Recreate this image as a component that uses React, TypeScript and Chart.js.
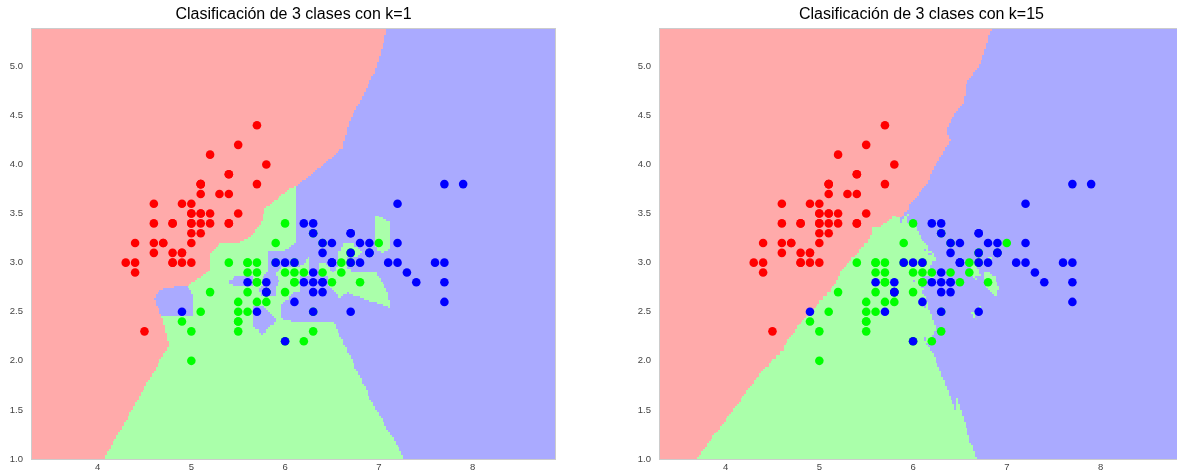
import React, { useEffect, useRef } from "react";
import { Chart, registerables } from "chart.js";

Chart.register(...registerables);

// Iris data (sepal length, sepal width), in dataset order
const setosaLength = [5.1,4.9,4.7,4.6,5.0,5.4,4.6,5.0,4.4,4.9,5.4,4.8,4.8,4.3,5.8,5.7,5.4,5.1,5.7,5.1,5.4,5.1,4.6,5.1,4.8,5.0,5.0,5.2,5.2,4.7,4.8,5.4,5.2,5.5,4.9,5.0,5.5,4.9,4.4,5.1,5.0,4.5,4.4,5.0,5.1,4.8,5.1,4.6,5.3,5.0];
const setosaWidth = [3.5,3.0,3.2,3.1,3.6,3.9,3.4,3.4,2.9,3.1,3.7,3.4,3.0,3.0,4.0,4.4,3.9,3.5,3.8,3.8,3.4,3.7,3.6,3.3,3.4,3.0,3.4,3.5,3.4,3.2,3.1,3.4,4.1,4.2,3.1,3.2,3.5,3.6,3.0,3.4,3.5,2.3,3.2,3.5,3.8,3.0,3.8,3.2,3.7,3.3];
const versicolorLength = [7.0,6.4,6.9,5.5,6.5,5.7,6.3,4.9,6.6,5.2,5.0,5.9,6.0,6.1,5.6,6.7,5.6,5.8,6.2,5.6,5.9,6.1,6.3,6.1,6.4,6.6,6.8,6.7,6.0,5.7,5.5,5.5,5.8,6.0,5.4,6.0,6.7,6.3,5.6,5.5,5.5,6.1,5.8,5.0,5.6,5.7,5.7,6.2,5.1,5.7];
const versicolorWidth = [3.2,3.2,3.1,2.3,2.8,2.8,3.3,2.4,2.9,2.7,2.0,3.0,2.2,2.9,2.9,3.1,3.0,2.7,2.2,2.5,3.2,2.8,2.5,2.8,2.9,3.0,2.8,3.0,2.9,2.6,2.4,2.4,2.7,2.7,3.0,3.4,3.1,2.3,3.0,2.5,2.6,3.0,2.6,2.3,2.7,3.0,2.9,2.9,2.5,2.8];
const virginicaLength = [6.3,5.8,7.1,6.3,6.5,7.6,4.9,7.3,6.7,7.2,6.5,6.4,6.8,5.7,5.8,6.4,6.5,7.7,7.7,6.0,6.9,5.6,7.7,6.3,6.7,7.2,6.2,6.1,6.4,7.2,7.4,7.9,6.4,6.3,6.1,7.7,6.3,6.4,6.0,6.9,6.7,6.9,5.8,6.8,6.7,6.7,6.3,6.5,6.2,5.9];
const virginicaWidth = [3.3,2.7,3.0,2.9,3.0,3.0,2.5,2.9,2.5,3.6,3.2,2.7,3.0,2.5,2.8,3.2,3.0,3.8,2.6,2.2,3.2,2.8,2.8,2.7,3.3,3.2,2.8,3.0,2.8,3.0,2.8,3.8,2.8,2.8,2.6,3.0,3.4,3.1,3.0,3.1,3.1,3.1,2.7,3.2,3.3,3.0,2.5,3.0,3.4,3.0];

// Duplicate samples where the earlier (versicolor) sample wins the distance tie
const tiePreferredLength = [6.0, 6.7];
const tiePreferredWidth = [2.2, 3.1];
const tiePreferredClass = [1, 1];

const pointColors = ["#FF0000", "#00FF00", "#0000FF"];
const regionColors = ["#FFAAAA", "#AAFFAA", "#AAAAFF"];
const neighborCounts = [1, 15];
const titles = ["Clasificación de 3 clases con k=1", "Clasificación de 3 clases con k=15"];
const xTicks = [4, 5, 6, 7, 8];
const yTicks = [1.0, 1.5, 2.0, 2.5, 3.0, 3.5, 4.0, 4.5, 5.0];
const gridStep = 0.02;

const allX = [...setosaLength, ...versicolorLength, ...virginicaLength];
const allY = [...setosaWidth, ...versicolorWidth, ...virginicaWidth];
const allLabel = [
  ...setosaLength.map(() => 0),
  ...versicolorLength.map(() => 1),
  ...virginicaLength.map(() => 2),
];
const allRank = allX.map((x, i) => {
  const pref = tiePreferredLength.some(
    (tx, j) => tx === x && tiePreferredWidth[j] === allY[i] && tiePreferredClass[j] === allLabel[i]
  );
  return pref ? 1000 + i : i;
});

const xMin = Math.min(...allX) - 1;
const yMin = Math.min(...allY) - 1;
const nCols = Math.round((Math.max(...allX) + 1 - xMin) / gridStep) - 1;
const nRows = Math.round((Math.max(...allY) + 1 - yMin) / gridStep) - 1;
const xMax = xMin + nCols * gridStep;
const yMax = yMin + nRows * gridStep;

function classify(k: number, px: number, py: number): number {
  const bestD: number[] = [];
  const bestR: number[] = [];
  const bestL: number[] = [];
  for (let i = 0; i < allX.length; i++) {
    const dx = px - allX[i];
    const dy = py - allY[i];
    const d = dx * dx + dy * dy;
    const r = allRank[i];
    const n = bestD.length;
    if (n >= k && (d > bestD[n - 1] || (d === bestD[n - 1] && r < bestR[n - 1]))) continue;
    let pos = 0;
    while (pos < n && (bestD[pos] < d || (bestD[pos] === d && bestR[pos] > r))) pos++;
    bestD.splice(pos, 0, d);
    bestR.splice(pos, 0, r);
    bestL.splice(pos, 0, allLabel[i]);
    if (bestD.length > k) {
      bestD.pop();
      bestR.pop();
      bestL.pop();
    }
  }
  const votes = [0, 0, 0];
  for (const l of bestL) votes[l]++;
  let best = 0;
  for (let c = 1; c < 3; c++) if (votes[c] > votes[best]) best = c;
  return best;
}

function hexToRgb(h: string) {
  return [parseInt(h.slice(1, 3), 16), parseInt(h.slice(3, 5), 16), parseInt(h.slice(5, 7), 16)];
}

function buildRegionImage(k: number): HTMLCanvasElement {
  const c = document.createElement("canvas");
  c.width = nCols;
  c.height = nRows;
  const cx = c.getContext("2d")!;
  const img = cx.createImageData(nCols, nRows);
  const rgb = regionColors.map(hexToRgb);
  for (let r = 0; r < nRows; r++) {
    const yv = yMin + (nRows - 1 - r) * gridStep;
    for (let col = 0; col < nCols; col++) {
      const xv = xMin + col * gridStep;
      const cls = classify(k, xv, yv);
      const o = (r * nCols + col) * 4;
      img.data[o] = rgb[cls][0];
      img.data[o + 1] = rgb[cls][1];
      img.data[o + 2] = rgb[cls][2];
      img.data[o + 3] = 255;
    }
  }
  cx.putImageData(img, 0, 0);
  return c;
}

const FONT = "'Liberation Sans', Arial, Helvetica, sans-serif";

function KnnChart({ k, title }: { k: number; title: string }) {
  const ref = useRef<HTMLCanvasElement | null>(null);
  useEffect(() => {
    if (!ref.current) return;
    const regionImage = buildRegionImage(k);
    const regionPlugin = {
      id: "regions" + k,
      beforeDatasetsDraw(chart: any) {
        const { ctx, chartArea, scales } = chart;
        const x0 = scales.x.getPixelForValue(xMin);
        const x1 = scales.x.getPixelForValue(xMin + nCols * gridStep);
        const yTop = scales.y.getPixelForValue(yMin + nRows * gridStep);
        const yBot = scales.y.getPixelForValue(yMin);
        ctx.save();
        ctx.beginPath();
        ctx.rect(chartArea.left, chartArea.top, chartArea.right - chartArea.left, chartArea.bottom - chartArea.top);
        ctx.clip();
        ctx.imageSmoothingEnabled = false;
        ctx.drawImage(regionImage, x0, yTop, x1 - x0, yBot - yTop);
        ctx.restore();
      },
      afterDatasetsDraw(chart: any) {
        const { ctx, chartArea } = chart;
        ctx.save();
        ctx.strokeStyle = "#cccccc";
        ctx.lineWidth = 1;
        ctx.strokeRect(chartArea.left - 0.5, chartArea.top - 0.5, chartArea.right - chartArea.left + 1, chartArea.bottom - chartArea.top + 1);
        ctx.restore();
      },
    };
    const chart = new Chart(ref.current, {
      type: "scatter",
      data: {
        datasets: [
          {
            data: allX.map((x, i) => ({ x, y: allY[i] })),
            backgroundColor: allLabel.map((l) => pointColors[l]),
            borderWidth: 0,
            pointRadius: 4.3,
            pointHoverRadius: 4.3,
          },
        ],
      },
      options: {
        animation: false,
        responsive: false,
        devicePixelRatio: 1,
        events: [],
        layout: { padding: { left: 0, right: 25, top: 0, bottom: 0 } },
        plugins: {
          legend: { display: false },
          tooltip: { enabled: false },
          title: {
            display: true,
            text: title,
            color: "#000000",
            font: { family: FONT, size: 16, weight: "normal" },
            padding: { top: 5, bottom: 4.8 },
            fullSize: false,
          },
        },
        scales: {
          x: {
            type: "linear",
            min: xMin,
            max: xMax,
            grid: { display: false, drawTicks: false },
            border: { display: false },
            afterBuildTicks: (s: any) => {
              s.ticks = xTicks.map((v) => ({ value: v }));
            },
            afterFit: (s: any) => {
              s.height = 15;
            },
            ticks: {
              color: "#444444",
              font: { family: FONT, size: 9.5 },
              padding: 3,
              maxRotation: 0,
              autoSkip: false,
              callback: (v: any) => String(v),
            },
          },
          y: {
            type: "linear",
            min: yMin,
            max: yMax,
            grid: { display: false, drawTicks: false },
            border: { display: false },
            afterBuildTicks: (s: any) => {
              s.ticks = yTicks.map((v) => ({ value: v }));
            },
            afterFit: (s: any) => {
              s.width = 32;
            },
            ticks: {
              color: "#444444",
              font: { family: FONT, size: 9.5 },
              padding: 9,
              autoSkip: false,
              callback: (v: any) => Number(v).toFixed(1),
            },
          },
        },
      },
      plugins: [regionPlugin],
    } as any);
    return () => chart.destroy();
  }, [k, title]);
  return <canvas ref={ref} width={580} height={474} style={{ width: 580, height: 474, display: "block" }} />;
}

export default function App() {
  return (
    <div
      style={{
        position: "absolute",
        left: 0,
        top: 0,
        width: 1177,
        height: 474,
        overflow: "hidden",
        background: "#ffffff",
      }}
    >
      <div style={{ position: "absolute", left: 0, top: 0 }}>
        <KnnChart k={neighborCounts[0]} title={titles[0]} />
      </div>
      <div style={{ position: "absolute", left: 628, top: 0 }}>
        <KnnChart k={neighborCounts[1]} title={titles[1]} />
      </div>
    </div>
  );
}
